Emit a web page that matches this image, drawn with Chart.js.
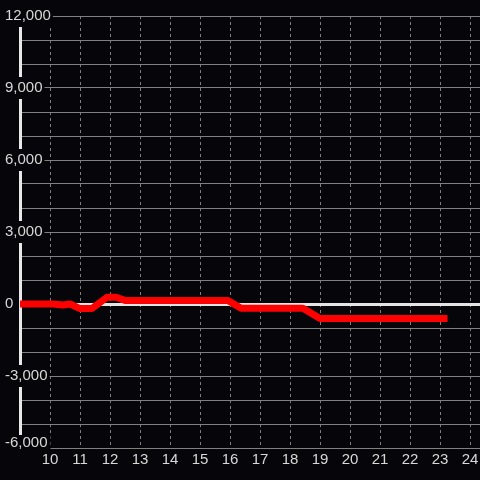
<!DOCTYPE html>
<html>
<head>
<meta charset="utf-8">
<script src="https://cdn.jsdelivr.net/npm/chart.js@4"></script>
<style>
  html, body { margin: 0; padding: 0; background: #060509; }
  canvas { display: block; }
</style>
</head>
<body>
<canvas id="chart" width="480" height="480"></canvas>
<script>
// hour of day and value
const hours = [8.9, 10.1, 10.43, 10.67, 11.0, 11.4, 11.9, 12.2, 12.5, 15.93, 16.37, 18.43, 19.0, 23.25];
const values = [0, 0, -40, 0, -190, -190, 280, 280, 150, 150, -180, -180, -600, -600];

const yMin = -6000;
const yMax = 12000;
const yLabelStep = 3000;
const xMin = 9;
const xMax = 24.333;

const bg = '#060509';
const textColor = '#d8d8d8';
const gridColor = '#808080';
const labelFont = '15px "Liberation Sans"';

const points = hours.map((h, i) => ({ x: h, y: values[i] }));

// the lowest y label sits a bit above its grid line, so it is drawn here
const lowLabel = {
    id: 'lowLabel',
    beforeDatasetsDraw(chart) {
        const c = chart.ctx;
        const text = yMin.toLocaleString('en-US');
        const py = chart.scales.y.getPixelForValue(yMin) - 5.5;
        c.save();
        c.font = labelFont;
        const w = c.measureText(text).width;
        c.fillStyle = bg;
        c.fillRect(3, py - 7.5, w + 5, 16);
        c.fillStyle = textColor;
        c.textAlign = 'left';
        c.textBaseline = 'middle';
        c.fillText(text, 5, py);
        c.restore();
    }
};

const ctx = document.getElementById('chart').getContext('2d');

const chart = new Chart(ctx, {
    type: 'line',
    data: {
        datasets: [{
            data: points,
            borderColor: '#ff0000',
            borderWidth: 7,
            borderJoinStyle: 'round',
            pointRadius: 0,
            tension: 0,
            fill: false
        }]
    },
    plugins: [lowLabel],
    options: {
        responsive: false,
        animation: false,
        layout: { padding: { left: 5, top: 16, right: 0, bottom: 0 } },
        plugins: {
            legend: { display: false },
            tooltip: { enabled: false }
        },
        scales: {
            x: {
                type: 'linear',
                min: xMin,
                max: xMax,
                afterFit: (scale) => {
                    scale.height = 32;
                    scale.paddingLeft = 0;
                    scale.paddingRight = 0;
                },
                grid: {
                    color: gridColor,
                    lineWidth: 1,
                    drawTicks: false
                },
                border: { color: gridColor, width: 1, dash: [3, 3] },
                ticks: {
                    stepSize: 1,
                    includeBounds: false,
                    autoSkip: false,
                    maxRotation: 0,
                    padding: 3,
                    color: textColor,
                    font: { family: 'Liberation Sans', size: 15 },
                    callback: (v) => v === xMin ? '' : String(v)
                }
            },
            y: {
                min: yMin,
                max: yMax,
                afterFit: (scale) => {
                    scale.width = 15;
                    scale.paddingTop = 0;
                    scale.paddingBottom = 0;
                },
                grid: {
                    color: (c) => c.tick && c.tick.value === 0 ? '#e4e4e4' : gridColor,
                    lineWidth: (c) => c.tick && c.tick.value === 0 ? 3 : 1,
                    drawTicks: false
                },
                border: { color: '#e8e8e8', width: 3 },
                ticks: {
                    stepSize: 1000,
                    autoSkip: false,
                    mirror: true,
                    crossAlign: 'near',
                    padding: -15,
                    color: textColor,
                    font: { family: 'Liberation Sans', size: 15 },
                    showLabelBackdrop: (c) => !!c.tick && c.tick.value !== yMin && c.tick.value % yLabelStep === 0,
                    backdropColor: bg,
                    backdropPadding: 2,
                    callback: (v) => (v % yLabelStep !== 0 || v === yMin) ? '' : v.toLocaleString('en-US')
                }
            }
        }
    }
});
</script>
</body>
</html>
